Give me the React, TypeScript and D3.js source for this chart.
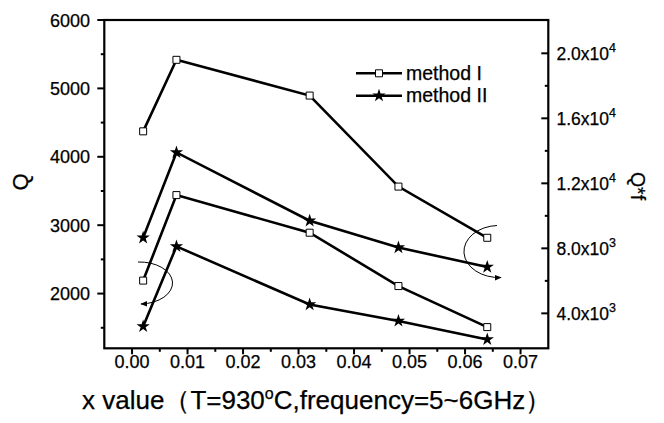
import React from "react";
import * as d3 from "d3";

const xValues = [0.002, 0.008, 0.032, 0.048, 0.064];
// upper curves, read on right axis (Q*f)
const qfMethod1 = [15200, 19600, 17400, 11800, 8650];
const qfMethod2 = [8650, 13900, 9700, 8050, 6850];
// lower curves, read on left axis (Q)
const qMethod1 = [2190, 3440, 2890, 2110, 1510];
const qMethod2 = [1520, 2690, 1840, 1600, 1330];

const xTicks = [0, 0.01, 0.02, 0.03, 0.04, 0.05, 0.06, 0.07];
const xMinor = [0.005, 0.015, 0.025, 0.035, 0.045, 0.055, 0.065];
const leftTicks = [2000, 3000, 4000, 5000, 6000];
const leftMinor = [1500, 2500, 3500, 4500, 5500];
const rightTicks = [4000, 8000, 12000, 16000, 20000];
const rightMinor = [6000, 10000, 14000, 18000];
const legendLabels = ["method I", "method II"];

const W = 664, H = 423;
const L = 104.3, R = 548.3, T = 20, B = 348.3;
const FONT = "'Liberation Sans', Arial, sans-serif";

export default function App() {
  const x = d3.scaleLinear().domain([-0.005, 0.075]).range([L, R]);
  const yL = d3.scaleLinear().domain([1200, 6000]).range([B, T]);
  const yR = d3.scaleLinear().domain([1850, 22050]).range([B, T]);

  const square = d3.symbol().type(d3.symbolSquare).size(49)();
  const star = d3.symbol().type(d3.symbolStar).size(55)();

  const series = [
    { vals: qfMethod1, y: yR, sym: "sq" },
    { vals: qfMethod2, y: yR, sym: "st" },
    { vals: qMethod1, y: yL, sym: "sq" },
    { vals: qMethod2, y: yL, sym: "st" },
  ];

  const mk = (sym: string, cx: number, cy: number, key: string) =>
    sym === "sq" ? (
      <path key={key} d={square!} transform={`translate(${cx},${cy})`} fill="#fff" stroke="#000" strokeWidth={1} />
    ) : (
      <path key={key} d={star!} transform={`translate(${cx},${cy})`} fill="#000" />
    );

  const fmtExp = (v: number) => {
    const [m, e] = v.toExponential(1).split("e");
    return { m, e: String(parseInt(e, 10)) };
  };

  const txt = { stroke: "#000", strokeWidth: 0.25 } as const;

  return (
    <svg width={W} height={H} style={{ position: "absolute", left: 0, top: 0, background: "#fff" }} fontFamily={FONT}>
      <defs>
        <marker id="arr" viewBox="0 0 10 10" refX="9" refY="5" markerWidth="7" markerHeight="7" orient="auto-start-reverse" markerUnits="userSpaceOnUse">
          <path d="M0,1 L10,5 L0,9 z" fill="#000" />
        </marker>
      </defs>

      {/* frame */}
      <rect x={L} y={T} width={R - L} height={B - T} fill="none" stroke="#000" strokeWidth={2.2} />

      {/* x ticks */}
      {xTicks.map((t) => (
        <g key={"xt" + t}>
          <line x1={x(t)} x2={x(t)} y1={B} y2={B + 6} stroke="#000" strokeWidth={2} />
          <text x={x(t)} y={367.5} textAnchor="middle" fontSize={18} {...txt}>{t.toFixed(2)}</text>
        </g>
      ))}
      {xMinor.map((t) => (
        <line key={"xm" + t} x1={x(t)} x2={x(t)} y1={B} y2={B + 3.5} stroke="#000" strokeWidth={2} />
      ))}

      {/* left ticks */}
      {leftTicks.map((t) => (
        <g key={"lt" + t}>
          <line x1={L - 7} x2={L} y1={yL(t)} y2={yL(t)} stroke="#000" strokeWidth={2} />
          <text x={90} y={yL(t) + 6.5} textAnchor="end" fontSize={18} {...txt}>{t}</text>
        </g>
      ))}
      {leftMinor.map((t) => (
        <line key={"lm" + t} x1={L - 3.5} x2={L} y1={yL(t)} y2={yL(t)} stroke="#000" strokeWidth={2} />
      ))}

      {/* right ticks */}
      {rightTicks.map((t) => {
        const f = fmtExp(t);
        return (
          <g key={"rt" + t}>
            <line x1={R - 7} x2={R} y1={yR(t)} y2={yR(t)} stroke="#000" strokeWidth={2} />
            <text x={556.5} y={yR(t) + 6.5} fontSize={17.5} {...txt}>
              {f.m}x10<tspan dy={-8} fontSize={12.5}>{f.e}</tspan>
            </text>
          </g>
        );
      })}
      {rightMinor.map((t) => (
        <line key={"rm" + t} x1={R - 3.5} x2={R} y1={yR(t)} y2={yR(t)} stroke="#000" strokeWidth={2} />
      ))}

      {/* series */}
      {series.map((s, i) => {
        const line = d3.line<number>().x((_, j) => x(xValues[j])).y((v) => s.y(v));
        return (
          <g key={"s" + i}>
            <path d={line(s.vals)!} fill="none" stroke="#000" strokeWidth={2.6} />
            {s.vals.map((v, j) => mk(s.sym, x(xValues[j]), s.y(v), `m${i}-${j}`))}
          </g>
        );
      })}

      {/* annotation arcs */}
      <path d="M138,262 A33,21 0 0 1 141,304" fill="none" stroke="#000" strokeWidth={1} markerEnd="url(#arr)" />
      <path d="M497,225.5 A35,26 0 0 0 501,277.5" fill="none" stroke="#000" strokeWidth={1} markerEnd="url(#arr)" />

      {/* legend */}
      {legendLabels.map((lab, i) => {
        const ly = 73.3 + i * 22.4;
        return (
          <g key={"lg" + i}>
            <line x1={356} x2={402} y1={ly} y2={ly} stroke="#000" strokeWidth={2.6} />
            {mk(i === 0 ? "sq" : "st", 379, ly, "lgm" + i)}
            <text x={406} y={ly + 6.5} fontSize={19.5} {...txt}>{lab}</text>
          </g>
        );
      })}

      {/* axis titles */}
      <text transform="translate(28,182) rotate(-90)" textAnchor="middle" fontSize={22} {...txt}>Q</text>
      <text transform="translate(631,186) rotate(90)" textAnchor="middle" fontSize={19.5} {...txt}>Q*f</text>
      <text x={82} y={409} fontSize={26} {...txt}>
        x value（T=930<tspan dy={-10} fontSize={16}>o</tspan><tspan dy={10}>C,frequency=5~6GHz）</tspan>
      </text>
    </svg>
  );
}
